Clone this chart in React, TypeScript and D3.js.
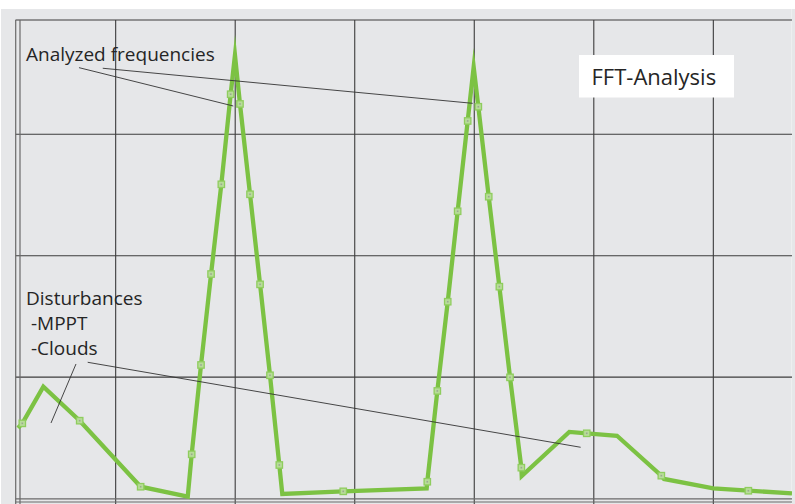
import React from "react";
import * as d3 from "d3";

// Spectrum (frequency in arbitrary units, grid every 10; amplitude in grid units)
const freq = [1.83, 2.19, 3.95, 6.99, 12.09, 16.03, 16.36, 17.14, 17.98, 18.84, 19.62, 19.98, 20.4, 21.24, 22.08, 22.91, 23.69, 23.94, 29.04, 36.02, 36.07, 36.91, 37.78, 38.61, 39.45, 39.95, 40.34, 41.21, 42.1, 42.99, 43.94, 43.97, 47.95, 49.41, 51.94, 55.65, 55.87, 60.0, 62.93, 66.58];
const amp = [0.581, 0.619, 0.921, 0.641, 0.097, 0.016, 0.364, 1.1, 1.849, 2.588, 3.33, 3.653, 3.25, 2.506, 1.764, 1.015, 0.276, 0.037, 0.059, 0.084, 0.138, 0.886, 1.621, 2.366, 3.11, 3.554, 3.227, 2.486, 1.745, 0.998, 0.254, 0.185, 0.548, 0.537, 0.517, 0.188, 0.161, 0.084, 0.064, 0.043];

const markerFreq = [2.19, 6.99, 12.09, 16.36, 17.14, 17.98, 18.84, 19.62, 20.4, 21.24, 22.08, 22.91, 23.69, 29.04, 36.07, 36.91, 37.78, 38.61, 39.45, 40.34, 41.21, 42.1, 42.99, 43.94, 49.41, 55.65, 62.93];
const markerAmp = [0.619, 0.641, 0.097, 0.364, 1.1, 1.849, 2.588, 3.33, 3.25, 2.506, 1.764, 1.015, 0.276, 0.059, 0.138, 0.886, 1.621, 2.366, 3.11, 3.227, 2.486, 1.745, 0.998, 0.254, 0.537, 0.188, 0.064];

const xGrid = [10, 20, 30, 40, 50, 60];
const yGrid = [1, 2, 3];

const title = "FFT-Analysis";
const analyzedLabel = "Analyzed frequencies";
const disturbanceLabels = ["Disturbances", " -MPPT", " -Clouds"];

// leader lines [x1, y1, x2, y2] in data units
const analyzedLeaders = [
  [6.93, 3.549, 19.84, 3.233],
  [8.92, 3.544, 39.87, 3.255],
];
const disturbanceLeaders = [
  [6.68, 1.108, 4.59, 0.622],
  [7.66, 1.122, 48.9, 0.422],
];

const W = 795;
const H = 504;
const plotLeft = 20;
const plotRight = 792;
const plotTop = 20;
const plotBottom = 498.5;

export default function App() {
  const x = d3.scaleLinear().domain([10, 60]).range([115.67, 713.33]);
  const y = d3.scaleLinear().domain([0, 1]).range([plotBottom, plotBottom - 121.4]);

  const line = d3
    .line<number>()
    .x((_, i) => x(freq[i]))
    .y((_, i) => y(amp[i]));

  const font = "'Open Sans', sans-serif";
  const textColor = "#252525";
  const gridColor = "#3c3c3c";

  return (
    <div style={{ position: "absolute", left: 0, top: 0 }}>
      <svg width={W} height={H} style={{ display: "block" }}>
        <rect x={0} y={0} width={W} height={H} fill="#ffffff" />
        <rect x={1} y={9} width={W - 1} height={H - 9} fill="#e6e7e9" />
        <line x1={791.5} x2={791.5} y1={9} y2={H} stroke="#eeeff0" strokeWidth={1} />
        <defs>
          <clipPath id="plotClip">
            <rect x={15} y={plotTop} width={plotRight - 15} height={H - plotTop} />
          </clipPath>
        </defs>
        {/* grid */}
        {xGrid.map((g) => (
          <line key={"vx" + g} x1={x(g)} x2={x(g)} y1={plotTop} y2={H} stroke={gridColor} strokeWidth={1.1} />
        ))}
        {yGrid.map((g) => (
          <line key={"hy" + g} x1={15.5} x2={plotRight} y1={y(g)} y2={y(g)} stroke={gridColor} strokeWidth={1.1} />
        ))}
        <line x1={15.5} x2={plotRight} y1={plotTop} y2={plotTop} stroke={gridColor} strokeWidth={1.1} />
        <line x1={15.7} x2={15.7} y1={plotTop} y2={H} stroke="#6a6a6a" strokeWidth={1.2} />
        <line x1={plotLeft} x2={plotLeft} y1={plotTop} y2={H} stroke="#6a6a6a" strokeWidth={1.2} />
        <line x1={15.5} x2={plotRight} y1={plotBottom + 0.3} y2={plotBottom + 0.3} stroke="#6a6a6a" strokeWidth={1.2} />
        <line x1={15.5} x2={plotRight} y1={502} y2={502} stroke="#6a6a6a" strokeWidth={1.2} />

        {/* spectrum */}
        <g clipPath="url(#plotClip)">
          <path
            d={line(freq) || ""}
            fill="none"
            stroke="#7cc243"
            strokeWidth={4.3}
            strokeLinejoin="miter"
            strokeMiterlimit={30}
          />
          {markerFreq.map((f, i) => (
            <g key={"m" + i}>
              <rect
                x={x(f) - 3.2}
                y={y(markerAmp[i]) - 3.2}
                width={6.4}
                height={6.4}
                fill="#b7dc98"
                stroke="#8fcd5e"
                strokeWidth={1.3}
              />
              <rect x={x(f) - 0.8} y={y(markerAmp[i]) - 0.8} width={1.6} height={1.6} fill="#9aa890" />
            </g>
          ))}
        </g>

        {/* leader lines */}
        {[...analyzedLeaders, ...disturbanceLeaders].map((l, i) => (
          <line
            key={"l" + i}
            x1={x(l[0])}
            y1={y(l[1])}
            x2={x(l[2])}
            y2={y(l[3])}
            stroke="#333"
            strokeWidth={0.9}
          />
        ))}

        {/* labels */}
        <text x={26} y={61} fontFamily={font} fontSize={19} fill={textColor}>
          {analyzedLabel}
        </text>
        {disturbanceLabels.map((t, i) => (
          <text
            key={"d" + i}
            x={26}
            y={304.5 + i * 25.2}
            fontFamily={font}
            fontSize={19}
            fill={textColor}
            style={{ whiteSpace: "pre" }}
          >
            {t}
          </text>
        ))}
        <rect x={579} y={55} width={155} height={42.5} fill="#ffffff" />
        <text x={591.5} y={84.5} fontFamily={font} fontSize={22} fill={textColor}>
          {title}
        </text>
      </svg>
    </div>
  );
}
